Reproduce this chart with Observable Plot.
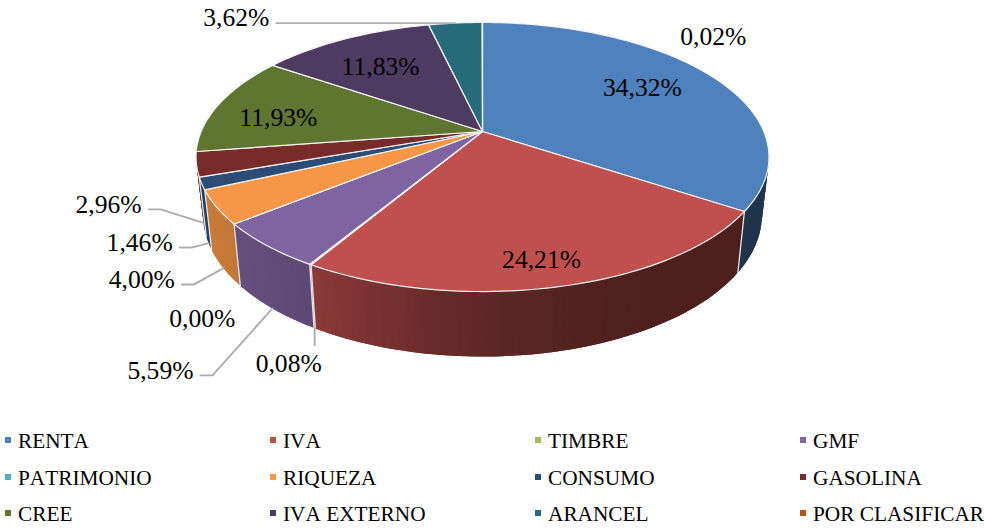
<!DOCTYPE html>
<html><head><meta charset="utf-8">
<script src="https://cdn.jsdelivr.net/npm/d3@7"></script>
<script src="https://cdn.jsdelivr.net/npm/@observablehq/plot@0.6"></script>
<style>
html,body{margin:0;padding:0;background:#fff;width:984px;height:529px;overflow:hidden}
#legend{position:relative;height:105px;font:21.3px "Liberation Serif",serif;color:#000;font-kerning:none}
#legend div{position:absolute;white-space:nowrap;line-height:24px}
#legend i{position:absolute;left:-13px;top:8px;width:6px;height:6px}
svg text{font-family:"Liberation Serif",serif !important}
</style></head><body>
<div id="chart"></div><div id="legend"></div>
<script>
// ---- data ----
const categories = ["RENTA","IVA","TIMBRE","GMF","PATRIMONIO","RIQUEZA","CONSUMO","GASOLINA","CREE","IVA EXTERNO","ARANCEL","POR CLASIFICAR"];
const shares = [34.32,24.21,0.08,5.59,0.00,4.00,1.46,2.96,11.93,11.83,3.62,0.02];
const labels = ["34,32%","24,21%","0,08%","5,59%","0,00%","4,00%","1,46%","2,96%","11,93%","11,83%","3,62%","0,02%"];

// ---- styling ----
const palette = ["#4f81bd","#c0504d","#9bbb59","#8064a2","#4bacc6","#f79646","#2c4d75","#772c2a","#5f7530","#4d3b62","#276a7c","#b65708"];
const wallLight = d3.scaleLinear().domain([100,150,165,185,210,235,260]).range([.4,.4,.43,.52,.72,.8,.84]).clamp(true);

// ---- label placement relative to each slice's rim point ----
const labelShift = [[-67.5,13],[-18,-27],[-26,36],[-112,62],[-38,33],[-81.6,11.5],[-69,-.6],[-95,-18.5],[59,13.6],[35.5,27.6],[-219,-5],[231,14]];
const labelRim = ["top","top","bottom","bottom","bottom","bottom","bottom","bottom","top","top","top","top"];
const leaderKind = ["none","none","drop","elbow","none","elbow","elbow","elbow","none","none","elbow","none"];

// ---- perspective disc ----
const W = 984, H = 424;
const cx = 482, cy = 131, k = .1896, fx = 281.3, fy = 129.7;
const top_ = t => { const a = t*Math.PI/180, X = Math.sin(a), Z = -Math.cos(a), D = 1-k*Z;
  return [cx+fx*X/D, cy+fy*Z/D]; };
const bot_ = t => { const [x,y] = top_(t); return [cx+.975*(x-cx), 188+1.05*(y-cy)]; };

const total = d3.sum(shares);
let acc = 0;
const slices = shares.map((v,i) => { const a0 = acc/total*360; acc += v; return {i, a0, a1: acc/total*360, mid:(a0+acc/total*360)/2}; });

const faces = [], walls = [], edges = [];
for (const s of slices) {
  const n = Math.max(1, Math.ceil((s.a1-s.a0)/1.5));
  const ring = d3.range(n+1).map(j => top_(s.a0+(s.a1-s.a0)*j/n));
  [[cx,cy],...ring,[cx,cy]].forEach(([x,y]) => faces.push({x,y,z:s.i,fill:palette[s.i]}));
  const lo = Math.max(s.a0,100.9), hi = Math.min(s.a1,259.1);
  if (hi > lo) {
    const m = Math.max(1, Math.ceil((hi-lo)/1.5)), step = (hi-lo)/m;
    for (let j=0;j<m;j++) {
      const t0 = lo+step*j, t1 = Math.min(hi, t0+2*step);
      const c = d3.rgb(palette[s.i]), f = wallLight(t0+step/2);
      const col = d3.rgb(c.r*f,c.g*f,c.b*f).formatHex();
      // each strip runs on under the next one, so no seam shows between strips
      const tm = (t0+t1)/2;
      [top_(t0),top_(tm),top_(t1),bot_(t1),bot_(tm),bot_(t0),top_(t0)].forEach(([x,y]) => walls.push({x,y,z:`${s.i}-${j}`,col}));
    }
    if (s.a0 > 100.9 && s.a0 < 259.1) [top_(s.a0),bot_(s.a0)].forEach(([x,y]) => edges.push({x,y,z:s.i}));
  }
}

const textRows = [], leaders = [];
slices.forEach(s => {
  const rim = labelRim[s.i]==="top" ? top_(s.mid) : bot_(s.mid);
  const [dx,dy] = labelShift[s.i];
  const lx = rim[0]+dx, ly = rim[1]+dy;
  textRows.push({x:lx,y:ly,t:labels[s.i]});
  if (leaderKind[s.i]==="elbow")
    [[lx+40,ly+5],[lx+52,ly+5],rim].forEach(([x,y]) => leaders.push({x,y,z:s.i}));
  if (leaderKind[s.i]==="drop")
    [rim,[rim[0],ly-19]].forEach(([x,y]) => leaders.push({x,y,z:s.i}));
});

const chart = Plot.plot({
  width:W, height:H, margin:0,
  x:{domain:[0,W],range:[0,W],axis:null},
  y:{domain:[0,H],range:[0,H],axis:null},
  color:{type:"identity"},
  style:{background:"#fff"},
  marks:[
    Plot.line(walls,{x:"x",y:"y",z:"z",fill:"col",curve:"linear",stroke:null}),
    Plot.line(edges,{x:"x",y:"y",z:"z",stroke:"#e6e6e6",strokeWidth:1.3,curve:"linear"}),
    Plot.line(faces,{x:"x",y:"y",z:"z",fill:"fill",stroke:"#f2f2f2",strokeWidth:1.2,strokeLinejoin:"round",curve:"linear"}),
    Plot.line(leaders,{x:"x",y:"y",z:"z",stroke:"#adadad",strokeWidth:1.9,curve:"linear"}),
    Plot.text(textRows,{x:"x",y:"y",text:"t",fontSize:25.6,fontFamily:"Liberation Serif",fill:"#000",textAnchor:"middle",lineAnchor:"middle"})
  ]
});
document.getElementById("chart").appendChild(chart);
chart.style.display="block";

// ---- legend ----
const legend = document.getElementById("legend");
categories.forEach((c,i) => {
  const d = document.createElement("div");
  d.style.left = (18+265*(i%4))+"px";
  d.style.top = (5+36.7*Math.floor(i/4))+"px";
  d.innerHTML = `<i style="background:${palette[i]}"></i>${c}`;
  legend.appendChild(d);
});
</script></body></html>
